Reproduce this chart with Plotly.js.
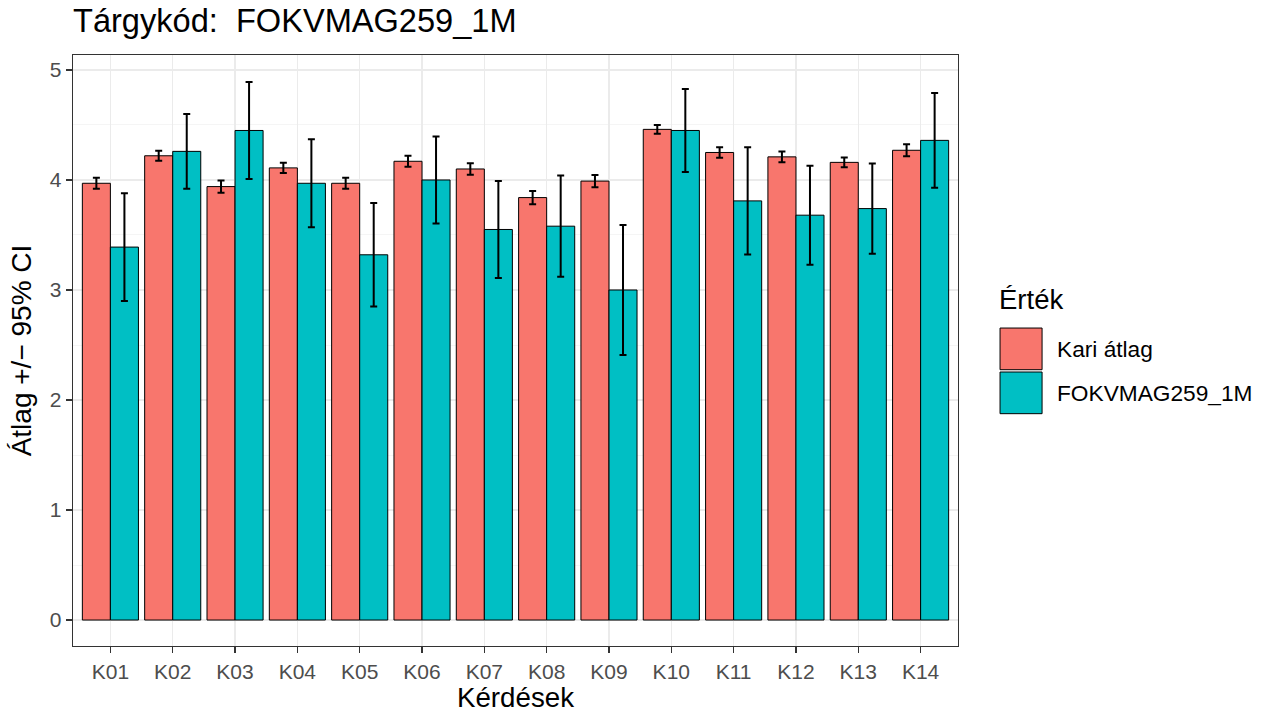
<!DOCTYPE html>
<html>
<head>
<meta charset="utf-8">
<script src="https://cdn.plot.ly/plotly-3.0.1.min.js"></script>
<style>html,body{margin:0;padding:0;background:#fff;}#chart{width:1263px;height:713px;}</style>
</head>
<body>
<div id="chart"></div>
<script>
const categories = ["K01","K02","K03","K04","K05","K06","K07","K08","K09","K10","K11","K12","K13","K14"];
const kariMean = [3.97,4.22,3.94,4.11,3.97,4.17,4.10,3.84,3.99,4.46,4.25,4.21,4.16,4.27];
const kariCI   = [0.05,0.045,0.055,0.047,0.05,0.05,0.053,0.06,0.055,0.04,0.047,0.048,0.045,0.055];
const courseMean = [3.39,4.26,4.45,3.97,3.32,4.00,3.55,3.58,3.00,4.45,3.81,3.68,3.74,4.36];
const courseCI   = [0.49,0.34,0.44,0.40,0.47,0.395,0.44,0.46,0.59,0.377,0.487,0.45,0.41,0.43];
const seriesNames = ["Kari átlag","FOKVMAG259_1M"];
const seriesColors = ["#F8766D","#00BFC4"];
const legendTitle = "Érték";
const chartTitle = "Tárgykód:\u00a0\u00a0FOKVMAG259_1M";

const font = "Liberation Sans, Arial, Helvetica, sans-serif";
const errStyle = {type:"data", visible:true, color:"#000000", thickness:2, width:3.5};

const traces = [
  {type:"bar", name:seriesNames[0], x:categories, y:kariMean,
   marker:{color:seriesColors[0], line:{color:"#000000", width:1}},
   error_y:Object.assign({array:kariCI}, errStyle), showlegend:false, hoverinfo:"x+y"},
  {type:"bar", name:seriesNames[1], x:categories, y:courseMean,
   marker:{color:seriesColors[1], line:{color:"#000000", width:1}},
   error_y:Object.assign({array:courseCI}, errStyle), showlegend:false, hoverinfo:"x+y"}
];

// legend built from series names/colours (paper coordinates)
const shapes = [];
const annotations = [];
const keyTop = [0.538, 0.4636];
const keyH = 0.0705;
seriesNames.forEach((n,i)=>{
  shapes.push({type:"rect", xref:"paper", yref:"paper", x0:1.0475, x1:1.095,
    y0:keyTop[i]-keyH, y1:keyTop[i], fillcolor:seriesColors[i], line:{color:"#000000", width:1}});
  annotations.push({xref:"paper", yref:"paper", x:1.1095, y:keyTop[i]-keyH/2, xanchor:"left", yanchor:"middle",
    text:n, showarrow:false, font:{family:font, size:22.7, color:"#000000"}});
});
annotations.push({xref:"paper", yref:"paper", x:1.0445, y:0.5855, xanchor:"left", yanchor:"middle",
  text:legendTitle, showarrow:false, font:{family:font, size:27.5, color:"#000000"}});

const layout = {
  width:1263, height:713,
  margin:{l:73, r:305, t:55, b:67, pad:0},
  paper_bgcolor:"#ffffff", plot_bgcolor:"#ffffff",
  barmode:"group", bargap:0.1, bargroupgap:0,
  title:{text:chartTitle, x:0, xref:"paper", xanchor:"left", y:0.971, yanchor:"middle",
    font:{family:font, size:32.6, color:"#000000"}},
  xaxis:{type:"category", range:[-0.6,13.6], showgrid:true, gridcolor:"#EBEBEB", gridwidth:1.5,
    ticks:"outside", ticklen:6, tickwidth:1.3, tickcolor:"#333333",
    tickfont:{family:font, size:21, color:"#4D4D4D"},
    showline:true, linecolor:"#333333", linewidth:1.3, mirror:true, zeroline:false,
    automargin:false,
    title:{text:"Kérdések", font:{family:font, size:27.7, color:"#000000"}, standoff:4}},
  yaxis:{range:[-0.236,5.136], dtick:1, tick0:0, showgrid:true, gridcolor:"#EBEBEB", gridwidth:1.5,
    minor:{dtick:0.5, tick0:0, showgrid:true, gridcolor:"#F2F2F2", gridwidth:0.8, ticks:""},
    ticks:"outside", ticklen:6, tickwidth:1.3, tickcolor:"#333333",
    tickfont:{family:font, size:21, color:"#4D4D4D"},
    showline:true, linecolor:"#333333", linewidth:1.3, mirror:true, zeroline:false,
    automargin:false,
    title:{text:"Átlag +/\u2212 95% CI", font:{family:font, size:28, color:"#000000"}, standoff:10}},
  shapes:shapes, annotations:annotations, showlegend:false
};

Plotly.newPlot("chart", traces, layout, {displayModeBar:false, staticPlot:true});
</script>
</body>
</html>
